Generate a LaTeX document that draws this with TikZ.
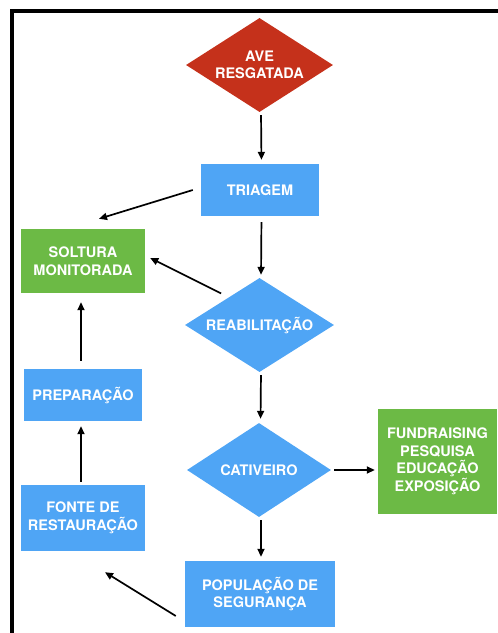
\documentclass[tikz,border=0pt]{standalone}
\usepackage{fontspec}
\setmainfont{TeX Gyre Heros}
\usetikzlibrary{shapes.geometric,arrows.meta,calc}
\definecolor{cred}{HTML}{C5311B}
\definecolor{cblue}{HTML}{4FA5F5}
\definecolor{cgreen}{HTML}{6CBA45}
\begin{document}
\begin{tikzpicture}[x=1pt,y=-1pt,
  lbl/.style={text=white,font=\fontsize{14.5}{17.5}\selectfont\bfseries,align=center,inner sep=0pt},
  boxnode/.style={lbl,rectangle},
  dianode/.style={lbl,diamond,shape aspect=1.56},
  arr/.style={line width=1.7pt,-{Triangle[length=8pt,width=7pt]}}]
\useasboundingbox (0,0) rectangle (498,633);
\draw[line width=3.2pt] (12,634) -- (12,11) -- (499,11);
\node[dianode,fill=cred,minimum width=147pt,minimum height=94pt] (ave) at (259.5,65) {AVE\\RESGATADA};
\node[boxnode,fill=cblue,minimum width=118pt,minimum height=52pt] (tri) at (260,190) {TRIAGEM};
\node[boxnode,fill=cgreen,minimum width=124pt,minimum height=64pt] (sol) at (83,261) {SOLTURA\\MONITORADA};
\node[dianode,fill=cblue,minimum width=149pt,minimum height=94pt] (reab) at (259.5,325) {REABILITAÇÃO};
\node[boxnode,fill=cblue,minimum width=118pt,minimum height=52pt] (prep) at (83,395) {PREPARAÇÃO};
\node[dianode,fill=cblue,minimum width=144pt,minimum height=94pt] (cat) at (259,470) {CATIVEIRO};
\node[boxnode,fill=cgreen,minimum width=119pt,minimum height=105pt] (fund) at (437.5,461.5) {FUNDRAISING\\PESQUISA\\EDUCAÇÃO\\EXPOSIÇÃO};
\node[boxnode,fill=cblue,minimum width=124pt,minimum height=66pt] (fonte) at (83,518) {FONTE DE\\RESTAURAÇÃO};
\node[boxnode,fill=cblue,minimum width=150pt,minimum height=66pt] (pop) at (260,594) {POPULAÇÃO DE\\SEGURANÇA};
\draw[arr,shorten <=3pt,shorten >=4pt] ([xshift=1.5pt]ave.south) -- ([xshift=1.5pt]tri.north);
\draw[arr] ([xshift=-8pt]tri.west) -- ([shift={(16pt,10pt)}]sol.north);
\draw[arr,shorten <=6pt,shorten >=3pt] ([xshift=1.5pt]tri.south) -- ([xshift=1.5pt]reab.north);
\draw[arr] ([shift={(-1pt,8pt)}]reab.north west) -- ([shift={(5pt,3pt)}]sol.east);
\draw[arr,shorten <=8pt,shorten >=9pt] ([xshift=-2pt]prep.north) -- ([xshift=-2pt]sol.south);
\draw[arr,shorten <=3pt,shorten >=5pt] ([xshift=-2pt]fonte.north) -- ([xshift=-2pt]prep.south);
\draw[arr,shorten <=3pt,shorten >=4pt] ([xshift=1.5pt]reab.south) -- ([xshift=1.5pt]cat.north);
\draw[arr,shorten <=3pt,shorten >=3pt] (cat.east) -- (fund.west |- cat.east);
\draw[arr,shorten <=3pt,shorten >=4pt] ([xshift=2pt]cat.south) -- ([xshift=1pt]pop.north);
\draw[arr] ([shift={(-9pt,-22pt)}]pop.west) -- ([shift={(22pt,-21pt)}]fonte.south);
\end{tikzpicture}
\end{document}
